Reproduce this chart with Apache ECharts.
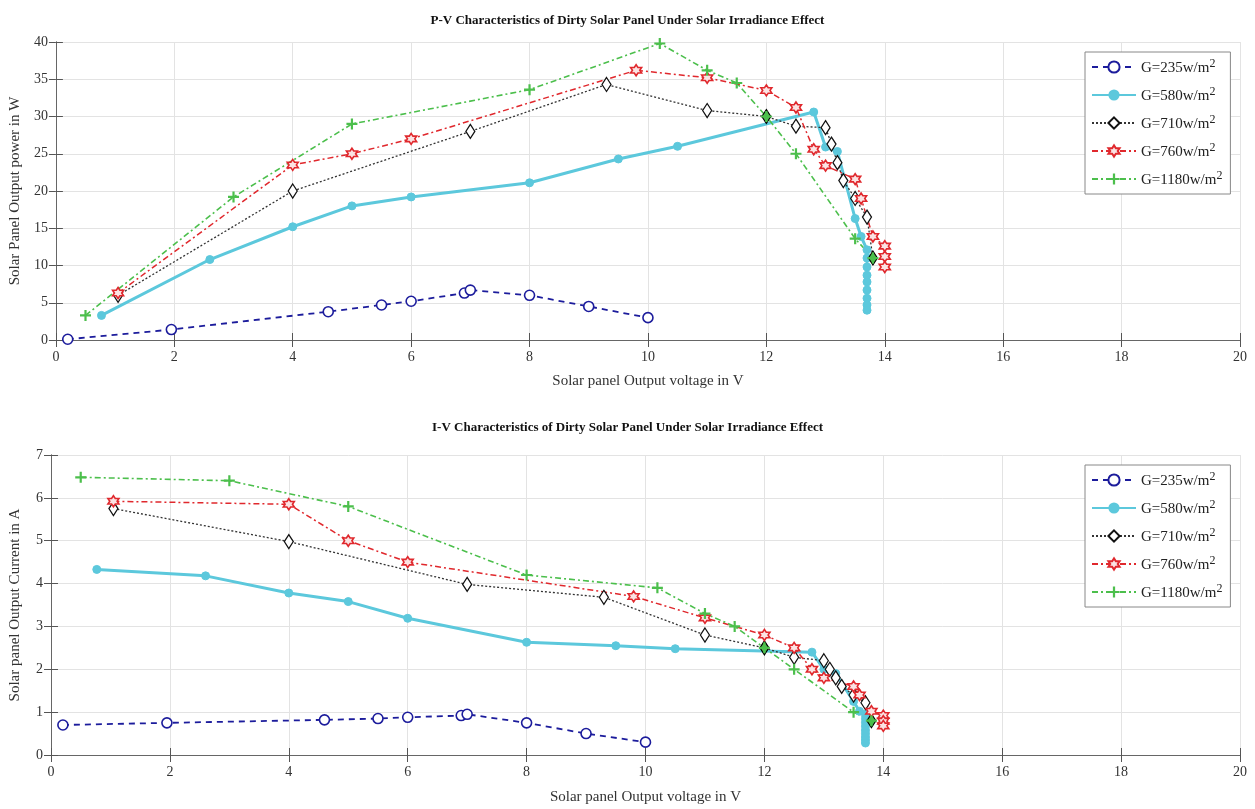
<!DOCTYPE html>
<html><head><meta charset="utf-8">
<script src="https://cdn.jsdelivr.net/npm/echarts@6/dist/echarts.min.js"></script>
<style>html,body{margin:0;padding:0;background:#fff}#c{width:1255px;height:809px}</style>
</head><body><div id="c"></div>
<script>
// ---------- DATA ----------
const seriesNames = ['G=235w/m²', 'G=580w/m²', 'G=710w/m²', 'G=760w/m²', 'G=1180w/m²'];
const xTicks = [0, 2, 4, 6, 8, 10, 12, 14, 16, 18, 20];

const v235 = [0.2, 1.95, 4.6, 5.5, 6.0, 6.9, 7.0, 8.0, 9.0, 10.0];
const p235 = [0.1, 1.4, 3.8, 4.7, 5.2, 6.3, 6.7, 6.0, 4.5, 3.0];
const i235 = [0.70, 0.75, 0.82, 0.85, 0.88, 0.92, 0.95, 0.75, 0.50, 0.30];

const v580 = [0.77, 2.6, 4.0, 5.0, 6.0, 8.0, 9.5, 10.5, 12.8, 13.0, 13.2, 13.5, 13.6, 13.7, 13.7, 13.7, 13.7, 13.7, 13.7, 13.7, 13.7, 13.7];
const p580 = [3.3, 10.8, 15.2, 18.0, 19.2, 21.1, 24.3, 26.0, 30.6, 25.9, 25.3, 16.3, 13.9, 12.1, 11.0, 9.8, 8.7, 7.8, 6.7, 5.6, 4.7, 4.0];
const i580 = [4.33, 4.18, 3.78, 3.58, 3.19, 2.63, 2.55, 2.48, 2.40, 2.0, 1.9, 1.25, 1.02, 0.95, 0.85, 0.76, 0.67, 0.58, 0.50, 0.42, 0.35, 0.28];

const v710 = [1.05, 4.0, 7.0, 9.3, 11.0, 12.0, 12.5, 13.0, 13.1, 13.2, 13.3, 13.5, 13.7, 13.8];
const p710 = [6.0, 20.0, 28.0, 34.3, 30.8, 30.0, 28.7, 28.5, 26.3, 23.8, 21.4, 19.0, 16.5, 11.0];
const i710 = [5.75, 4.98, 3.98, 3.68, 2.80, 2.50, 2.28, 2.20, 2.00, 1.80, 1.60, 1.40, 1.22, 0.80];
const greenFaced710 = [5, 13];

const v760 = [1.05, 4.0, 5.0, 6.0, 9.8, 11.0, 12.0, 12.5, 12.8, 13.0, 13.5, 13.6, 13.8, 14.0, 14.0, 14.0];
const p760 = [6.3, 23.5, 25.0, 27.0, 36.2, 35.2, 33.5, 31.2, 25.6, 23.4, 21.6, 19.0, 13.9, 12.6, 11.2, 9.8];
const i760 = [5.92, 5.85, 5.0, 4.5, 3.7, 3.2, 2.8, 2.5, 2.0, 1.8, 1.6, 1.4, 1.02, 0.92, 0.79, 0.68];

const v1180 = [0.5, 3.0, 5.0, 8.0, 10.2, 11.0, 11.5, 12.0, 12.5, 13.5, 13.8];
const p1180 = [3.3, 19.2, 29.0, 33.6, 39.8, 36.2, 34.5, 30.0, 25.0, 13.6, 11.0];
const i1180 = [6.48, 6.4, 5.8, 4.2, 3.9, 3.3, 3.0, 2.5, 2.0, 1.0, 0.8];

// ---------- STYLE ----------
const FONT = 'Liberation Serif';
const colors = ['#1c1c9c', '#5cc8dc', '#111111', '#e0282d', '#4cbf4c'];
const HEX = 'path://M10,0L12.89,5L18.66,5L15.77,10L18.66,15L12.89,15L10,20L7.11,15L1.34,15L4.23,10L1.34,5L7.11,5Z';
const PLUS = 'path://M4,0H6V4H10V6H6V10H4V6H0V4H4Z';

function pairs(xs, ys) { return xs.map((x, k) => [x, ys[k]]); }

function makeSeries(gi) {
  const yA = gi === 0 ? [p235, p580, p710, p760, p1180] : [i235, i580, i710, i760, i1180];
  const xIdx = gi * 2, yIdx = gi * 2;
  const d710 = pairs(v710, yA[2]).map((p, k) => greenFaced710.includes(k)
    ? { value: p, itemStyle: { color: colors[4], borderColor: '#000', borderWidth: 1.2 } } : p);
  return [
    { name: seriesNames[0], type: 'line', xAxisIndex: xIdx, yAxisIndex: yIdx, data: pairs(v235, yA[0]),
      symbol: 'circle', symbolSize: 10,
      itemStyle: { color: '#fff', borderColor: colors[0], borderWidth: 1.6 },
      lineStyle: { color: colors[0], width: 1.8, type: [6, 5] } },
    { name: seriesNames[1], type: 'line', xAxisIndex: xIdx, yAxisIndex: yIdx, data: pairs(v580, yA[1]),
      symbol: 'circle', symbolSize: 8,
      itemStyle: { color: colors[1], borderColor: colors[1] },
      lineStyle: { color: colors[1], width: 3 } },
    { name: seriesNames[2], type: 'line', xAxisIndex: xIdx, yAxisIndex: yIdx, data: d710,
      symbol: 'diamond', symbolSize: [9, 14],
      itemStyle: { color: '#fff', borderColor: colors[2], borderWidth: 1.3 },
      lineStyle: { color: '#333', width: 1.3, type: [2, 2] } },
    { name: seriesNames[3], type: 'line', xAxisIndex: xIdx, yAxisIndex: yIdx, data: pairs(v760, yA[3]),
      symbol: HEX, symbolSize: 11,
      itemStyle: { color: '#fbe3e3', borderColor: colors[3], borderWidth: 1.6 },
      lineStyle: { color: colors[3], width: 1.5, type: [6, 3, 2, 3] } },
    { name: seriesNames[4], type: 'line', xAxisIndex: xIdx, yAxisIndex: yIdx, data: pairs(v1180, yA[4]),
      symbol: PLUS, symbolSize: 11,
      itemStyle: { color: colors[4], borderColor: colors[4], borderWidth: 0 },
      lineStyle: { color: colors[4], width: 1.6, type: [6, 3, 2, 3] } }
  ];
}

const axisLabelStyle = { fontFamily: FONT, fontSize: 14, color: '#333' };
const nameStyle = { fontFamily: FONT, fontSize: 15, color: '#333' };

function xAxes(gi) {
  return [
    { type: 'value', gridIndex: gi, min: xTicks[0], max: xTicks[xTicks.length - 1], interval: 2,
      name: 'Solar panel Output voltage in V', nameLocation: 'middle', nameGap: gi === 0 ? 34 : 35,
      nameTextStyle: nameStyle,
      axisLine: { show: true, onZero: false, lineStyle: { color: '#666' } },
      axisTick: { show: true, inside: true, length: 7, lineStyle: { color: '#555' } },
      axisLabel: Object.assign({ margin: 10 }, axisLabelStyle),
      splitLine: { show: true, lineStyle: { color: '#e3e3e3' } } },
    { type: 'value', gridIndex: gi, position: 'top', min: 0, max: 20, interval: 2,
      axisLine: { show: true, lineStyle: { color: '#666' } },
      axisTick: { show: true, inside: true, length: 7, lineStyle: { color: '#555' } },
      axisLabel: { show: false }, splitLine: { show: false } }
  ];
}
function yAxes(gi) {
  const max = gi === 0 ? 40 : 7, iv = gi === 0 ? 5 : 1;
  return [
    { type: 'value', gridIndex: gi, min: 0, max: max, interval: iv,
      name: gi === 0 ? 'Solar Panel Output power in W' : 'Solar panel Output Current in A',
      nameLocation: 'middle', nameGap: 28, nameTextStyle: nameStyle,
      axisLine: { show: true, onZero: false, lineStyle: { color: '#666' } },
      axisTick: { show: true, inside: true, length: 7, lineStyle: { color: '#555' } },
      axisLabel: Object.assign({ margin: 8 }, axisLabelStyle),
      splitLine: { show: true, lineStyle: { color: '#e3e3e3' } } },
    { type: 'value', gridIndex: gi, position: 'right', min: 0, max: max, interval: iv,
      axisLine: { show: true, lineStyle: { color: '#666' } },
      axisTick: { show: true, inside: true, length: 7, lineStyle: { color: '#555' } },
      axisLabel: { show: false }, splitLine: { show: false } }
  ];
}

const legendBase = {
  orient: 'vertical', left: 1085, data: seriesNames,
  backgroundColor: '#fff', borderColor: '#888', borderWidth: 1,
  padding: [6, 8, 6, 6], itemGap: 10, itemWidth: 44, itemHeight: 14,
  formatter: n => '{a|' + n.slice(0, -1) + '}{s|2}',
  textStyle: {
    fontFamily: FONT, fontSize: 15, color: '#222',
    rich: {
      a: { fontFamily: FONT, fontSize: 15, color: '#222', lineHeight: 18, verticalAlign: 'bottom' },
      s: { fontFamily: FONT, fontSize: 12, color: '#222', lineHeight: 18, verticalAlign: 'top', padding: [0, 0, 6, 0] }
    }
  }
};

const option = {
  animation: false,
  backgroundColor: '#fff',
  title: [
    { text: 'P-V Characteristics of Dirty Solar Panel Under Solar Irradiance Effect', left: 'center', top: 9,
      textStyle: { fontFamily: FONT, fontSize: 13, fontWeight: 'bold', color: '#111' } },
    { text: 'I-V Characteristics of Dirty Solar Panel Under Solar Irradiance Effect', left: 'center', top: 416,
      textStyle: { fontFamily: FONT, fontSize: 13, fontWeight: 'bold', color: '#111' } }
  ],
  legend: [Object.assign({ top: 52 }, legendBase), Object.assign({ top: 465 }, legendBase)],
  grid: [
    { left: 51, right: 15, top: 42, bottom: 809 - 340, show: false },
    { left: 51, right: 15, top: 455, bottom: 809 - 755, show: false }
  ],
  xAxis: [...xAxes(0), ...xAxes(1)],
  yAxis: [...yAxes(0), ...yAxes(1)],
  series: [...makeSeries(0), ...makeSeries(1)]
};

const chart = echarts.init(document.getElementById('c'), null, { renderer: 'canvas' });
chart.setOption(option);
</script>
</body></html>
